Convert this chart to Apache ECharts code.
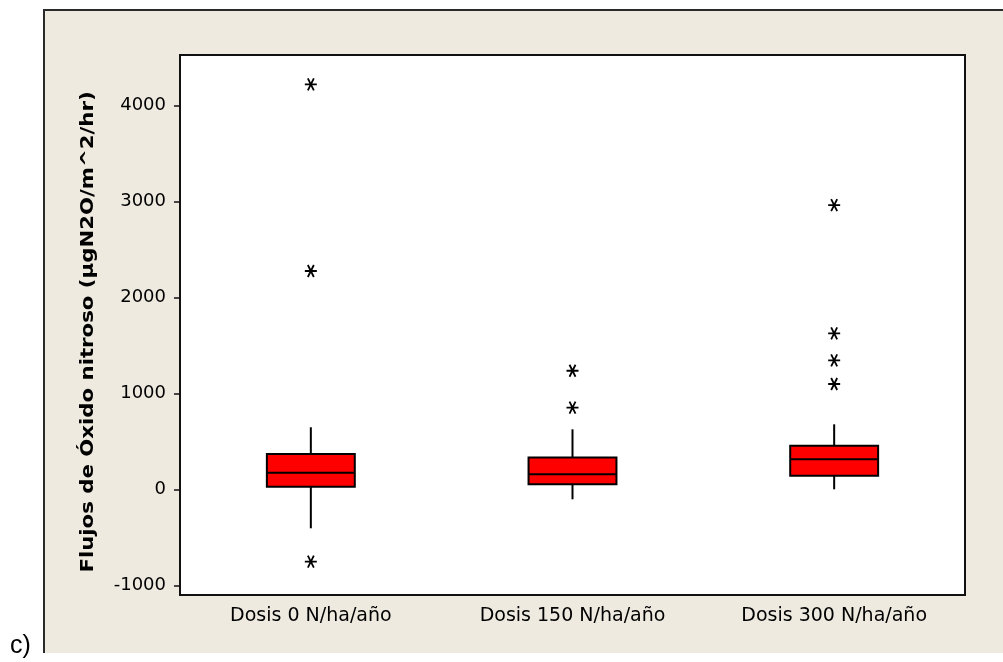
<!DOCTYPE html>
<html>
<head>
<meta charset="utf-8">
<script src="https://cdn.jsdelivr.net/npm/echarts@6/dist/echarts.min.js"></script>
<style>
html,body{margin:0;padding:0;background:#fff;}
#chart{width:1003px;height:662px;}
</style>
</head>
<body>
<div id="chart"></div>
<script>
var categories = ['Dosis 0 N/ha/año', 'Dosis 150 N/ha/año', 'Dosis 300 N/ha/año'];
var whiskerLow = [-406, -104, 0];
var q1 = [27, 52, 142];
var median = [173, 156, 313];
var q3 = [368, 331, 454];
var whiskerHigh = [646, 625, 677];
var outliers0 = [4219, 2274, -754];
var outliers1 = [1235, 850];
var outliers2 = [2961, 1625, 1344, 1097];
var yTicks = [-1000, 0, 1000, 2000, 3000, 4000];
var yTitle = 'Flujos de Óxido nitroso (µgN2O/m^2/hr)';
var panelLabel = 'c)';

var boxData = categories.map(function (c, i) {
  return [i, whiskerLow[i], q1[i], median[i], q3[i], whiskerHigh[i]];
});
var outlierData = [];
[outliers0, outliers1, outliers2].forEach(function (arr, i) {
  arr.forEach(function (v) { outlierData.push([i, v]); });
});

var chart = echarts.init(document.getElementById('chart'), null, {renderer: 'canvas'});
var asterisk = 'path://M-1,0L1,0M-0.5,-0.866L0.5,0.866M0.5,-0.866L-0.5,0.866';

chart.setOption({
  animation: false,
  backgroundColor: '#ffffff',
  graphic: [
    {type: 'rect', z: -10, shape: {x: 44, y: 10, width: 959, height: 643}, style: {fill: '#EEEAE0'}},
    {type: 'polyline', z: -9, shape: {points: [[44, 653], [44, 10], [1003, 10]]}, style: {stroke: '#2a2a2a', lineWidth: 2, fill: null}},
    {type: 'text', x: 89, y: 332, rotation: Math.PI / 2, scaleX: 1.25, scaleY: 1,
     style: {text: yTitle, font: 'bold 17px "DejaVu Sans"', fill: '#000', align: 'center', verticalAlign: 'middle'}},
    {type: 'text', x: 10, y: 646, style: {text: panelLabel, font: '25px "Liberation Sans"', fill: '#000', align: 'left', verticalAlign: 'middle'}}
  ],
  grid: {left: 180, top: 55, right: 38, bottom: 67, show: true, backgroundColor: '#ffffff', borderColor: '#111', borderWidth: 2},
  xAxis: {
    type: 'category', data: categories, boundaryGap: true,
    axisLine: {onZero: false, lineStyle: {color: '#111', width: 2}},
    axisTick: {alignWithLabel: true, length: 6, lineStyle: {color: '#111', width: 1.5}},
    axisLabel: {color: '#000', fontSize: 19, fontFamily: 'DejaVu Sans', margin: 12},
    splitLine: {show: false}
  },
  yAxis: {
    type: 'value', min: -1101, max: 4524,
    axisLine: {show: true, lineStyle: {color: '#111', width: 2}},
    axisTick: {show: true, length: 6, lineStyle: {color: '#111', width: 1.5}, customValues: yTicks},
    axisLabel: {color: '#000', fontSize: 18, fontFamily: 'DejaVu Sans', margin: 14, customValues: yTicks,
      formatter: function (v) { return String(v); }},
    splitLine: {show: false}
  },
  series: [
    {
      type: 'custom',
      data: boxData,
      encode: {x: 0, y: [1, 2, 3, 4, 5]},
      renderItem: function (params, api) {
        var xi = api.value(0);
        var pLow = api.coord([xi, api.value(1)]);
        var pQ1 = api.coord([xi, api.value(2)]);
        var pMed = api.coord([xi, api.value(3)]);
        var pQ3 = api.coord([xi, api.value(4)]);
        var pHigh = api.coord([xi, api.value(5)]);
        var band = api.size([1, 0])[0];
        var half = band * 0.168;
        var cx = pQ1[0];
        var lineStyle = {stroke: '#000', lineWidth: 2};
        return {
          type: 'group',
          children: [
            {type: 'line', shape: {x1: cx, y1: pQ3[1], x2: cx, y2: pHigh[1]}, style: lineStyle},
            {type: 'line', shape: {x1: cx, y1: pQ1[1], x2: cx, y2: pLow[1]}, style: lineStyle},
            {type: 'rect', shape: {x: cx - half, y: pQ3[1], width: half * 2, height: pQ1[1] - pQ3[1]},
             style: {fill: '#FF0000', stroke: '#000', lineWidth: 2}},
            {type: 'line', shape: {x1: cx - half, y1: pMed[1], x2: cx + half, y2: pMed[1]}, style: lineStyle}
          ]
        };
      }
    },
    {
      type: 'scatter',
      data: outlierData,
      symbol: asterisk,
      symbolSize: 12,
      itemStyle: {color: 'rgba(0,0,0,0)', borderColor: '#000', borderWidth: 1.8, opacity: 1},
      emphasis: {disabled: true}
    }
  ]
});
</script>
</body>
</html>
